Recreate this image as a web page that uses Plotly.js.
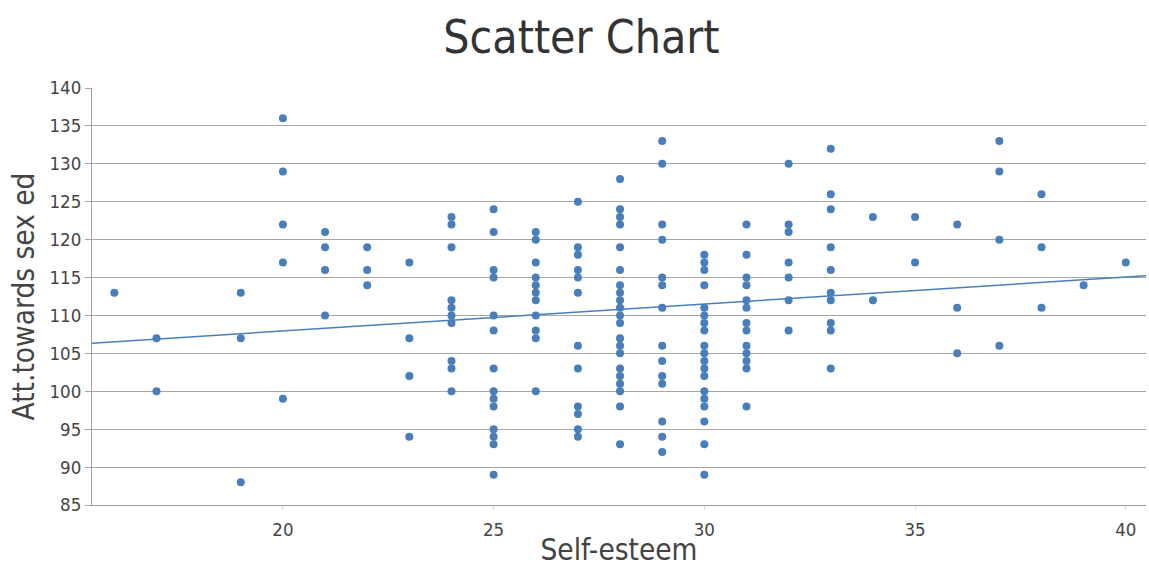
<!DOCTYPE html>
<html>
<head>
<meta charset="utf-8">
<script src="https://cdn.plot.ly/plotly-3.0.1.min.js"></script>
<style>html,body{margin:0;padding:0;background:#fff;}#chart{width:1149px;height:567px;}</style>
</head>
<body>
<div id="chart"></div>
<script>
// Self-esteem (x) and Attitude towards sex education (y)
const selfEsteem = [
  16,
  17,17,
  19,19,19,
  20,20,20,20,20,
  21,21,21,21,
  22,22,22,
  23,23,23,23,
  24,24,24,24,24,24,24,24,24,24,
  25,25,25,25,25,25,25,25,25,25,25,25,25,25,
  26,26,26,26,26,26,26,26,26,26,26,
  27,27,27,27,27,27,27,27,27,27,27,27,
  28,28,28,28,28,28,28,28,28,28,28,28,28,28,28,28,28,28,28,28,28,
  29,29,29,29,29,29,29,29,29,29,29,29,29,29,
  30,30,30,30,30,30,30,30,30,30,30,30,30,30,30,30,30,30,30,
  31,31,31,31,31,31,31,31,31,31,31,31,31,
  32,32,32,32,32,32,32,
  33,33,33,33,33,33,33,33,33,33,
  34,34,
  35,35,
  36,36,36,
  37,37,37,37,
  38,38,38,
  39,
  40
];
const attitude = [
  113,
  107,100,
  113,107,88,
  136,129,122,117,99,
  121,119,116,110,
  119,116,114,
  117,107,102,94,
  123,122,119,112,111,110,109,104,103,100,
  124,121,116,115,110,108,103,100,99,98,95,94,93,89,
  121,120,117,115,114,113,112,110,108,107,100,
  125,119,118,116,115,113,106,103,98,97,95,94,
  128,124,123,122,119,116,114,113,112,111,110,109,107,106,105,103,102,101,100,98,93,
  133,130,122,120,115,114,111,106,104,102,101,96,94,92,
  118,117,116,114,111,110,109,108,106,105,104,103,102,100,99,98,96,93,89,
  122,118,115,114,112,111,109,108,106,105,104,103,98,
  130,122,121,117,115,112,108,
  132,126,124,119,116,113,112,109,108,103,
  123,112,
  123,117,
  122,111,105,
  133,129,120,106,
  126,119,111,
  114,
  117
];
const xTicks = [20, 25, 30, 35, 40];
const yTicks = [85, 90, 95, 100, 105, 110, 115, 120, 125, 130, 135, 140];
const xRange = [15.47, 40.48];
const yRange = [85, 140];

// least-squares trend line computed from the data
const n = selfEsteem.length;
const mx = selfEsteem.reduce((a, b) => a + b, 0) / n;
const my = attitude.reduce((a, b) => a + b, 0) / n;
let sxy = 0, sxx = 0;
for (let i = 0; i < n; i++) { sxy += (selfEsteem[i] - mx) * (attitude[i] - my); sxx += (selfEsteem[i] - mx) ** 2; }
const slope = sxy / sxx, intercept = my - slope * mx;
const trendX = xRange.slice();
const trendY = trendX.map(x => intercept + slope * x);

const blue = '#4a7ebb';
const fontFam = '"DejaVu Sans Condensed", "DejaVu Sans", sans-serif';

const traces = [
  { type: 'scatter', mode: 'markers', x: selfEsteem, y: attitude,
    marker: { color: blue, size: 8, line: { width: 0 } }, hoverinfo: 'x+y', showlegend: false },
  { type: 'scatter', mode: 'lines', x: trendX, y: trendY,
    line: { color: blue, width: 1.5 }, hoverinfo: 'skip', showlegend: false }
];

const layout = {
  width: 1149, height: 567,
  margin: { l: 92, r: 3, t: 88, b: 62, pad: 0 },
  paper_bgcolor: '#ffffff', plot_bgcolor: '#ffffff',
  font: { family: fontFam, color: '#444' },
  title: { text: 'Scatter Chart', font: { family: fontFam, size: 46, color: '#333' },
           x: 0.506, xref: 'container', xanchor: 'center', y: 0.935, yref: 'container', yanchor: 'middle' },
  xaxis: {
    range: xRange, tickvals: xTicks, ticktext: xTicks.map(String),
    showgrid: false, zeroline: false, showline: true, linecolor: '#a0a0a0', linewidth: 1,
    ticks: 'outside', ticklen: 4, tickcolor: '#dcdcdc', ticklabelstandoff: 4,
    tickfont: { size: 18.5, color: '#444', family: fontFam },
    title: { text: 'Self-esteem', font: { size: 29.5, color: '#444', family: fontFam }, standoff: 2 },
    automargin: false, fixedrange: true
  },
  yaxis: {
    range: yRange, tickvals: yTicks, ticktext: yTicks.map(String),
    showgrid: true, gridcolor: '#a6a6a6', gridwidth: 1, zeroline: false,
    showline: true, linecolor: '#a0a0a0', linewidth: 1,
    ticks: 'outside', ticklen: 6, tickcolor: '#a6a6a6',
    tickfont: { size: 18.5, color: '#444', family: fontFam },
    title: { text: 'Att.towards sex ed', font: { size: 29.5, color: '#444', family: fontFam }, standoff: 6 },
    automargin: false, fixedrange: true
  },
  showlegend: false
};

Plotly.newPlot('chart', traces, layout, { displayModeBar: false, staticPlot: true });
</script>
</body>
</html>
